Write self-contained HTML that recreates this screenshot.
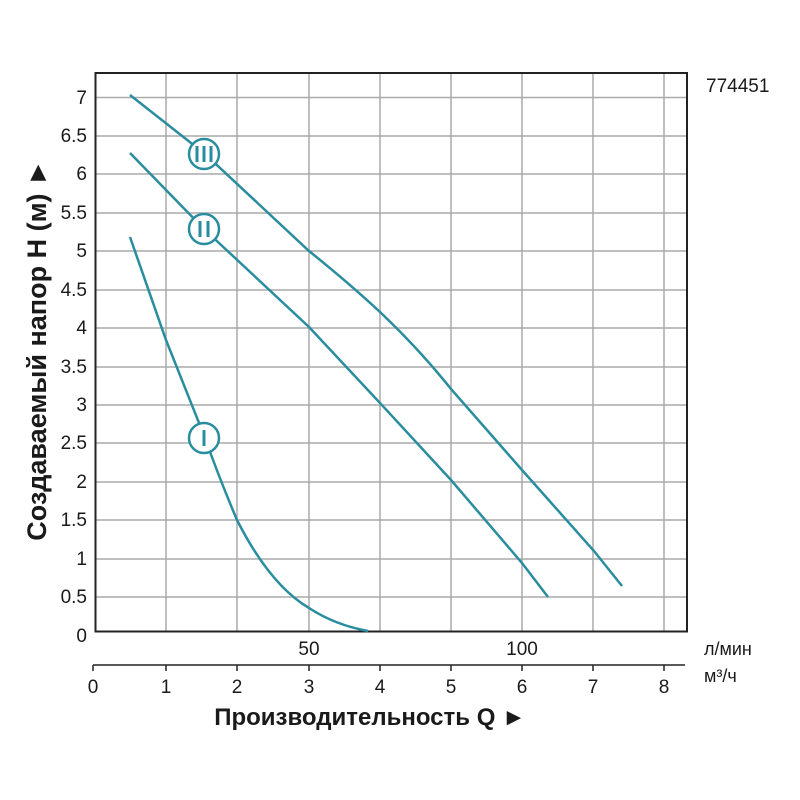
<!DOCTYPE html>
<html><head><meta charset="utf-8"><style>
html,body{margin:0;padding:0;background:#fff;}
svg{display:block;}
text{font-family:"Liberation Sans",Arial,sans-serif;fill:#1a1a1a;}
</style></head><body>
<svg width="800" height="800" viewBox="0 0 800 800">
<g stroke="#aaa" stroke-width="1.5">
<line x1="166" y1="73" x2="166" y2="632"/><line x1="237" y1="73" x2="237" y2="632"/>
<line x1="309" y1="73" x2="309" y2="632"/><line x1="380" y1="73" x2="380" y2="632"/>
<line x1="451" y1="73" x2="451" y2="632"/><line x1="522" y1="73" x2="522" y2="632"/>
<line x1="593" y1="73" x2="593" y2="632"/><line x1="664" y1="73" x2="664" y2="632"/>
<line x1="95" y1="97.5" x2="687" y2="97.5"/><line x1="95" y1="136" x2="687" y2="136"/>
<line x1="95" y1="174" x2="687" y2="174"/><line x1="95" y1="213" x2="687" y2="213"/>
<line x1="95" y1="251" x2="687" y2="251"/><line x1="95" y1="290" x2="687" y2="290"/>
<line x1="95" y1="328" x2="687" y2="328"/><line x1="95" y1="367" x2="687" y2="367"/>
<line x1="95" y1="405" x2="687" y2="405"/><line x1="95" y1="443" x2="687" y2="443"/>
<line x1="95" y1="482" x2="687" y2="482"/><line x1="95" y1="520" x2="687" y2="520"/>
<line x1="95" y1="559" x2="687" y2="559"/><line x1="95" y1="597" x2="687" y2="597"/>
</g>
<rect x="95.5" y="73" width="591.5" height="558.5" fill="none" stroke="#222" stroke-width="2"/>
<g font-size="19" text-anchor="end">
<text x="87" y="104">7</text><text x="87" y="142">6.5</text><text x="87" y="180">6</text>
<text x="87" y="219">5.5</text><text x="87" y="257">5</text><text x="87" y="296">4.5</text>
<text x="87" y="334">4</text><text x="87" y="373">3.5</text><text x="87" y="411">3</text>
<text x="87" y="449">2.5</text><text x="87" y="488">2</text><text x="87" y="526">1.5</text>
<text x="87" y="565">1</text><text x="87" y="603">0.5</text><text x="87" y="642">0</text>
</g>
<text x="706" y="92" font-size="19">774451</text>
<text x="309" y="655" font-size="19" text-anchor="middle">50</text>
<text x="522" y="655" font-size="19" text-anchor="middle">100</text>
<text x="704" y="655" font-size="18">л/мин</text>
<text x="704" y="682" font-size="18">м³/ч</text>
<g stroke="#222" stroke-width="1.5">
<line x1="93" y1="665" x2="685" y2="665"/>
<line x1="93" y1="665" x2="93" y2="671"/><line x1="166" y1="665" x2="166" y2="671"/>
<line x1="237" y1="665" x2="237" y2="671"/><line x1="309" y1="665" x2="309" y2="671"/>
<line x1="380" y1="665" x2="380" y2="671"/><line x1="451" y1="665" x2="451" y2="671"/>
<line x1="522" y1="665" x2="522" y2="671"/><line x1="593" y1="665" x2="593" y2="671"/>
<line x1="664" y1="665" x2="664" y2="671"/>
</g>
<g font-size="19" text-anchor="middle">
<text x="93" y="693">0</text><text x="166" y="693">1</text><text x="237" y="693">2</text>
<text x="309" y="693">3</text><text x="380" y="693">4</text><text x="451" y="693">5</text>
<text x="522" y="693">6</text><text x="593" y="693">7</text><text x="664" y="693">8</text>
</g>
<text x="370" y="725" font-size="24" font-weight="bold" text-anchor="middle">Производительность Q ►</text>
<text transform="translate(46,350) rotate(-90)" font-size="27" font-weight="bold" text-anchor="middle">Создаваемый напор H (м) ►</text>
<g fill="none" stroke="#2a8d9f" stroke-width="2.5">
<path d="M130,95 L205,154 L309,251 Q350,284 380,312 Q420,350 451,389 L522,470 L594,551 L622,586"/>
<path d="M130,153 L204,229 L309,327 L380,403 L451,480 L522,563 L548,597"/>
<path d="M130,237 L166,340 L205,438 Q220,480 237,520 Q270,585 309,608 Q335,625 368,631"/>
</g>
<g fill="#fff" stroke="#2a8d9f" stroke-width="2.5">
<circle cx="204" cy="154" r="15"/><circle cx="204" cy="229" r="15"/><circle cx="204" cy="438" r="15"/>
</g>
<g stroke="#2a8d9f" stroke-width="3">
<line x1="197" y1="146" x2="197" y2="162"/><line x1="204" y1="146" x2="204" y2="162"/><line x1="211" y1="146" x2="211" y2="162"/>
<line x1="200" y1="221" x2="200" y2="237"/><line x1="208" y1="221" x2="208" y2="237"/>
<line x1="204" y1="430" x2="204" y2="446"/>
</g>
</svg>
</body></html>
